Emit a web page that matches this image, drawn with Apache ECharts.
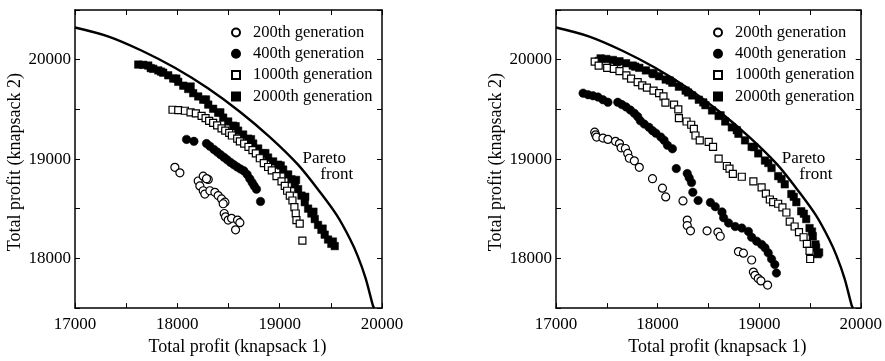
<!DOCTYPE html>
<html>
<head>
<meta charset="utf-8">
<script src="https://cdn.jsdelivr.net/npm/echarts@6/dist/echarts.min.js"></script>
<style>
html,body{margin:0;padding:0;background:#fff;}
#chart{width:885px;height:361px;}
</style>
</head>
<body>
<div id="chart"></div>
<script>
// ---- data ----
const xTickLabels = [17000, 18000, 19000, 20000];
const yTickLabels = [18000, 19000, 20000];
const seriesNames = ['200th generation', '400th generation', '1000th generation', '2000th generation'];
const frontLabel1 = 'Pareto';
const frontLabel2 = 'front';

const paretoFront = [[17000,20324],[17322,20235],[17654,20090],[17976,19918],[18299,19712],[18611,19476],[18904,19221],[19177,18946],[19392,18671],[19558,18435],[19685,18200],[19763,18023],[19841,17797],[19912,17522],[19925,17500]];

// left panel
const left200 = [[17976,18917],[18025,18861],[18204,18779],[18253,18828],[18302,18795],[18220,18730],[18253,18681],[18269,18648],[18285,18802],[18318,18681],[18367,18665],[18399,18632],[18432,18599],[18465,18566],[18448,18550],[18458,18452],[18471,18419],[18497,18386],[18530,18403],[18588,18386],[18611,18360],[18569,18288]];
const left400 = [[18090,19198],[18162,19178],[18285,19156],[18318,19129],[18357,19097],[18390,19070],[18422,19044],[18455,19018],[18487,18992],[18520,18966],[18552,18943],[18585,18920],[18617,18900],[18650,18881],[18682,18845],[18708,18802],[18731,18763],[18751,18730],[18773,18697],[18813,18573]];
const left1000 = [[17953,19496],[18009,19493],[18074,19486],[18129,19470],[18181,19460],[18237,19434],[18276,19411],[18311,19385],[18350,19365],[18389,19339],[18432,19309],[18468,19286],[18507,19264],[18533,19237],[18585,19205],[18611,19178],[18653,19156],[18695,19123],[18734,19090],[18767,19057],[18806,19008],[18845,18959],[18887,18920],[18923,18887],[18969,18828],[19018,18776],[19050,18730],[19073,18681],[19099,18632],[19125,18583],[19144,18517],[19157,18452],[19164,18386],[19196,18350],[19222,18180]];
const left2000 = [[17618,19951],[17667,19948],[17716,19941],[17765,19908],[17814,19892],[17862,19869],[17911,19843],[17960,19810],[18009,19777],[18058,19738],[18106,19705],[18155,19663],[18204,19630],[18253,19597],[18302,19548],[18350,19506],[18399,19466],[18448,19417],[18497,19378],[18546,19336],[18594,19286],[18643,19247],[18692,19205],[18741,19156],[18790,19106],[18838,19057],[18887,19015],[18936,18976],[18985,18943],[19034,18894],[19083,18845],[19115,18796],[19148,18746],[19180,18697],[19213,18632],[19245,18566],[19278,18501],[19310,18452],[19343,18396],[19375,18337],[19408,18288],[19440,18239],[19473,18190],[19505,18147],[19538,18124],
  [17740,19915],[17840,19880],[17990,19810],[18130,19730],[18280,19600],[18420,19470],[18570,19330],[18720,19200],[18860,19060],[19010,18935],[19160,18790],[19250,18620],[19330,18470],[19420,18300],[19520,18170]];

// right panel
const right200 = [[17381,19270],[17390,19244],[17400,19221],[17462,19211],[17511,19198],[17586,19178],[17625,19156],[17641,19113],[17683,19106],[17706,19057],[17722,19008],[17771,18982],[17820,18917],[17950,18802],[18048,18707],[18080,18619],[18250,18579],[18292,18386],[18292,18331],[18324,18278],[18487,18278],[18594,18265],[18617,18223],[18796,18069],[18845,18053],[18926,17984],[18943,17863],[18959,17830],[18991,17797],[19017,17774],[19083,17732]];
const right400 = [[17267,19663],[17316,19647],[17364,19637],[17413,19624],[17462,19597],[17511,19571],[17608,19571],[17648,19548],[17690,19525],[17732,19493],[17771,19460],[17804,19427],[17830,19385],[17869,19352],[17915,19319],[17950,19286],[17983,19260],[18032,19221],[18064,19188],[18097,19139],[18146,19103],[18184,18904],[18292,18854],[18311,18812],[18334,18763],[18347,18665],[18399,18583],[18520,18563],[18568,18521],[18634,18468],[18650,18409],[18699,18357],[18764,18321],[18829,18305],[18894,18272],[18926,18213],[18975,18174],[19024,18141],[19057,18108],[19089,18056],[19122,17994],[19154,17938],[19170,17853]];
const right1000 = [[17381,19980],[17420,19941],[17504,19918],[17569,19908],[17625,19885],[17693,19843],[17739,19810],[17804,19774],[17849,19741],[17895,19719],[17960,19689],[18015,19663],[18058,19630],[18077,19568],[18162,19548],[18204,19499],[18210,19411],[18285,19378],[18331,19345],[18357,19303],[18373,19237],[18415,19188],[18503,19172],[18546,19123],[18601,19005],[18682,18930],[18708,18904],[18741,18851],[18829,18822],[18943,18776],[19024,18714],[19066,18652],[19105,18593],[19138,18566],[19187,18550],[19229,18514],[19268,18462],[19301,18370],[19349,18321],[19392,18265],[19437,18213],[19470,18147],[19496,18075],[19502,17994]];
const right2000 = [[17420,19987],[17439,20013],[17495,20007],[17560,19997],[17625,19984],[17690,19964],[17755,19941],[17820,19918],[17885,19892],[17950,19866],[18015,19833],[18080,19800],[18145,19768],[18210,19728],[18276,19689],[18341,19640],[18406,19597],[18471,19542],[18536,19489],[18601,19434],[18666,19378],[18731,19319],[18796,19254],[18861,19188],[18926,19123],[18991,19057],[19057,18985],[19122,18910],[19187,18828],[19252,18746],[19317,18648],[19366,18566],[19414,18475],[19463,18396],[19496,18305],[19528,18223],[19554,18141],[19577,18043],
  [17600,19975],[17780,19930],[17960,19855],[18120,19790],[18300,19670],[18450,19570],[18620,19440],[18780,19290],[18950,19120],[19090,18960],[19220,18800],[19340,18620],[19440,18450],[19520,18270],[19560,18110],[19590,18060]];

const frontLabelPos = [[19436,19005],[19558,18845]];

// ---- chart ----
const FONT = 'Liberation Serif';
const chart = echarts.init(document.getElementById('chart'), null, {renderer: 'canvas'});

const grids = [
  {left: 75, top: 10, width: 307, height: 305},
  {left: 556, top: 10, width: 307, height: 305}
];

const xAxes = [], yAxes = [], series = [];
const lineStyleAxis = {color: '#000', width: 1.5};
const tickStyle = {show: true, inside: true, length: 5, lineStyle: {color: '#000', width: 1}};

grids.forEach((g, gi) => {
  xAxes.push({
    type: 'value', gridIndex: gi, min: 17000, max: 20000, interval: 500, position: 'bottom',
    axisLine: {show: true, onZero: false, lineStyle: lineStyleAxis},
    axisTick: tickStyle,
    splitLine: {show: false},
    axisLabel: {show: true, margin: 8, color: '#000', fontFamily: FONT, fontSize: 17,
      formatter: v => xTickLabels.includes(v) ? String(v) : ''},
    name: 'Total profit (knapsack 1)', nameLocation: 'middle', nameGap: 26,
    nameTextStyle: {color: '#000', fontFamily: FONT, fontSize: 18, padding: [0, 0, 0, 18]}
  });
  xAxes.push({
    type: 'value', gridIndex: gi, min: 17000, max: 20000, interval: 500, position: 'top',
    axisLine: {show: true, onZero: false, lineStyle: lineStyleAxis},
    axisTick: tickStyle, splitLine: {show: false}, axisLabel: {show: false}
  });
  yAxes.push({
    type: 'value', gridIndex: gi, min: 17500, max: 20500, interval: 500, position: 'left',
    axisLine: {show: true, onZero: false, lineStyle: lineStyleAxis},
    axisTick: tickStyle, splitLine: {show: false},
    axisLabel: {show: true, margin: 4, color: '#000', fontFamily: FONT, fontSize: 17,
      formatter: v => yTickLabels.includes(v) ? String(v) : ''},
    name: 'Total profit (knapsack 2)', nameLocation: 'middle', nameGap: 50, nameRotate: 90,
    nameTextStyle: {color: '#000', fontFamily: FONT, fontSize: 18, padding: [0, 6, 0, 0]}
  });
  yAxes.push({
    type: 'value', gridIndex: gi, min: 17500, max: 20500, interval: 500, position: 'right',
    axisLine: {show: true, onZero: false, lineStyle: lineStyleAxis},
    axisTick: tickStyle, splitLine: {show: false}, axisLabel: {show: false}
  });
});

const panelData = [
  {d200: left200, d400: left400, d1000: left1000, d2000: left2000},
  {d200: right200, d400: right400, d1000: right1000, d2000: right2000}
];

panelData.forEach((p, gi) => {
  const xi = gi * 2, yi = gi * 2;
  series.push({
    type: 'line', xAxisIndex: xi, yAxisIndex: yi, data: paretoFront, smooth: 0.3,
    showSymbol: false, symbol: 'none', silent: true, clip: true,
    lineStyle: {color: '#000', width: 2.4}, z: 1,
    markPoint: {
      symbol: 'circle', symbolSize: 0, silent: true,
      label: {show: true, position: 'inside', color: '#000', fontFamily: FONT, fontSize: 17,
        formatter: prm => prm.name},
      data: [
        {name: frontLabel1, coord: frontLabelPos[0]},
        {name: frontLabel2, coord: frontLabelPos[1]}
      ]
    }
  });
  series.push({
    type: 'scatter', name: seriesNames[3], xAxisIndex: xi, yAxisIndex: yi, data: p.d2000,
    symbol: 'rect', symbolSize: 7.5, itemStyle: {color: '#000', borderColor: '#000', borderWidth: 0.5, opacity: 1}, z: 2
  });
  series.push({
    type: 'scatter', name: seriesNames[1], xAxisIndex: xi, yAxisIndex: yi, data: p.d400,
    symbol: 'circle', symbolSize: 8.5, itemStyle: {color: '#000', borderColor: '#000', borderWidth: 0.5, opacity: 1}, z: 3
  });
  series.push({
    type: 'scatter', name: seriesNames[0], xAxisIndex: xi, yAxisIndex: yi, data: p.d200,
    symbol: 'circle', symbolSize: 8, itemStyle: {color: '#fff', borderColor: '#000', borderWidth: 1.2, opacity: 1}, z: 4
  });
  series.push({
    type: 'scatter', name: seriesNames[2], xAxisIndex: xi, yAxisIndex: yi, data: p.d1000,
    symbol: 'rect', symbolSize: 7, itemStyle: {color: '#fff', borderColor: '#000', borderWidth: 1.2, opacity: 1}, z: 5
  });
});

const legendCommon = {
  orient: 'vertical', top: 19, itemWidth: 8, itemHeight: 8, itemGap: 4.3,
  selectedMode: false,
  textStyle: {color: '#000', fontFamily: FONT, fontSize: 16.5, lineHeight: 16, padding: [0, 0, 0, 8]}
};

chart.setOption({
  animation: false,
  backgroundColor: '#fff',
  grid: grids,
  xAxis: xAxes,
  yAxis: yAxes,
  legend: [
    Object.assign({}, legendCommon, {left: 226, data: seriesNames}),
    Object.assign({}, legendCommon, {left: 708, data: seriesNames})
  ],
  series: series
});
</script>
</body>
</html>
